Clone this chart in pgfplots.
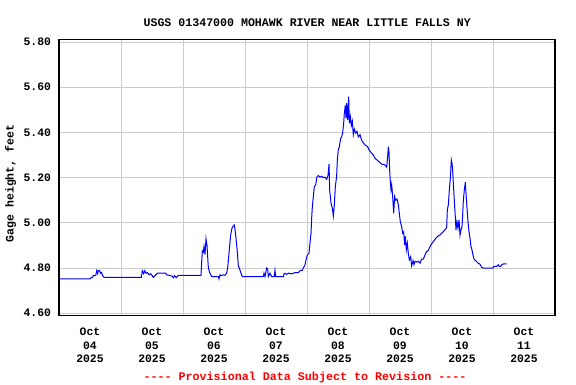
\documentclass[border=0pt]{standalone}
\usepackage{pgfplots}
\pgfplotsset{compat=1.18}
\usepackage{fontspec}
\newfontfamily\usgs{Liberation Mono}
\definecolor{gridgray}{RGB}{204,204,204}
\definecolor{usgsblue}{RGB}{0,0,255}
\definecolor{usgsred}{RGB}{255,0,0}
\begin{document}
\begin{tikzpicture}
\path[use as bounding box] (0,0) rectangle (576pt,384pt);
\begin{axis}[
  at={(59pt,68.3pt)}, anchor=south west,
  scale only axis, width=496pt, height=276.4pt,
  xmin=0, xmax=8, ymin=4.589, ymax=5.812,
  xtick={0.5,1.5,2.5,3.5,4.5,5.5,6.5,7.5},
  xticklabels={Oct\\04\\2025,Oct\\05\\2025,Oct\\06\\2025,Oct\\07\\2025,Oct\\08\\2025,Oct\\09\\2025,Oct\\10\\2025,Oct\\11\\2025},
  minor xtick={1,2,3,4,5,6,7},
  xminorgrids=true,
  ytick={4.6,4.8,5.0,5.2,5.4,5.6,5.8},
  yticklabels={4.60,4.80,5.00,5.20,5.40,5.60,5.80},
  ymajorgrids=true,
  major tick length=0pt, minor tick length=0pt,
  grid style={gridgray, line width=1pt},
  minor grid style={gridgray, line width=1pt},
  axis line style={black, line width=1.3pt},
  xticklabel style={font=\usgs\bfseries\fontsize{11.4}{13.3}\selectfont, align=center, yshift=-9pt},
  yticklabel style={font=\usgs\bfseries\fontsize{11.4}{13.3}\selectfont, xshift=-4.5pt},
  axis on top=false,
]
\addplot[usgsblue, line width=1pt, line join=miter] table {
0.000 4.752
0.500 4.752
0.516 4.757
0.543 4.757
0.548 4.766
0.591 4.766
0.608 4.788
0.624 4.775
0.634 4.788
0.656 4.788
0.672 4.777
0.688 4.780
0.704 4.766
0.726 4.759
1.328 4.759
1.344 4.788
1.366 4.775
1.382 4.788
1.403 4.777
1.425 4.780
1.452 4.770
1.478 4.775
1.505 4.766
1.522 4.759
1.548 4.766
1.586 4.777
1.720 4.777
1.737 4.770
1.801 4.766
1.828 4.763
1.844 4.757
1.866 4.766
1.892 4.757
1.919 4.766
1.935 4.767
2.290 4.767
2.296 4.800
2.312 4.876
2.328 4.870
2.339 4.895
2.355 4.860
2.371 4.929
2.387 4.900
2.398 4.850
2.409 4.800
2.435 4.777
2.462 4.762
2.570 4.762
2.581 4.752
2.597 4.770
2.624 4.766
2.651 4.770
2.677 4.768
2.704 4.777
2.720 4.800
2.737 4.850
2.753 4.900
2.769 4.946
2.790 4.976
2.812 4.986
2.828 4.990
2.839 4.970
2.855 4.930
2.871 4.888
2.882 4.850
2.892 4.810
2.909 4.800
2.935 4.777
2.957 4.762
3.296 4.762
3.306 4.777
3.323 4.762
3.349 4.800
3.366 4.795
3.376 4.762
3.403 4.777
3.430 4.762
3.473 4.762
3.484 4.790
3.495 4.762
3.618 4.762
3.634 4.777
3.672 4.772
3.699 4.777
3.753 4.774
3.806 4.780
3.860 4.780
3.887 4.788
3.925 4.790
3.941 4.800
3.968 4.814
3.984 4.836
4.005 4.858
4.032 4.865
4.048 4.910
4.065 4.954
4.075 5.020
4.086 5.070
4.102 5.116
4.118 5.160
4.140 5.168
4.161 5.204
4.183 5.209
4.210 5.202
4.237 5.206
4.263 5.200
4.290 5.202
4.317 5.193
4.339 5.210
4.355 5.260
4.366 5.145
4.387 5.087
4.409 5.065
4.425 5.030
4.441 5.080
4.457 5.160
4.478 5.205
4.489 5.278
4.505 5.323
4.522 5.337
4.543 5.374
4.559 5.380
4.575 5.397
4.591 5.440
4.602 5.485
4.618 5.520
4.629 5.463
4.640 5.530
4.656 5.455
4.672 5.558
4.683 5.440
4.699 5.470
4.715 5.430
4.731 5.450
4.747 5.390
4.763 5.415
4.785 5.397
4.806 5.405
4.828 5.380
4.855 5.390
4.871 5.374
4.892 5.360
4.935 5.345
4.978 5.337
5.000 5.323
5.043 5.308
5.070 5.300
5.097 5.286
5.129 5.278
5.161 5.270
5.204 5.260
5.258 5.256
5.285 5.246
5.301 5.293
5.312 5.337
5.323 5.310
5.333 5.234
5.344 5.182
5.355 5.146
5.366 5.168
5.382 5.116
5.398 5.042
5.414 5.116
5.430 5.100
5.452 5.105
5.473 5.080
5.489 5.042
5.505 5.005
5.527 4.983
5.543 4.954
5.559 4.960
5.575 4.902
5.586 4.940
5.602 4.880
5.618 4.910
5.634 4.865
5.651 4.836
5.672 4.850
5.688 4.810
5.710 4.833
5.726 4.815
5.742 4.830
5.769 4.826
5.796 4.830
5.823 4.821
5.849 4.839
5.876 4.839
5.903 4.858
5.930 4.873
5.957 4.878
5.984 4.895
6.011 4.907
6.038 4.917
6.065 4.927
6.091 4.936
6.118 4.942
6.145 4.946
6.172 4.954
6.199 4.961
6.226 4.969
6.253 4.980
6.263 5.057
6.280 5.080
6.296 5.146
6.312 5.197
6.328 5.278
6.339 5.264
6.349 5.234
6.360 5.175
6.376 5.100
6.392 5.027
6.403 4.969
6.419 5.005
6.435 4.976
6.452 5.013
6.468 4.946
6.484 4.969
6.500 4.983
6.511 5.035
6.522 5.100
6.538 5.146
6.554 5.180
6.565 5.130
6.581 5.065
6.597 5.005
6.613 4.961
6.629 4.932
6.645 4.895
6.661 4.880
6.677 4.858
6.694 4.840
6.710 4.835
6.737 4.828
6.763 4.821
6.790 4.817
6.817 4.803
6.844 4.800
6.995 4.800
7.016 4.807
7.059 4.807
7.086 4.814
7.102 4.807
7.124 4.807
7.140 4.814
7.167 4.818
7.220 4.818
};
\end{axis}
\node[anchor=base, font=\usgs\bfseries\fontsize{11.6}{14}\selectfont] at (307.2pt,357.5pt) {USGS 01347000 MOHAWK RIVER NEAR LITTLE FALLS NY};
\node[rotate=90, font=\usgs\bfseries\fontsize{11.5}{13}\selectfont] at (10.7pt,200.5pt) {Gage height, feet};
\node[anchor=base, text=usgsred, font=\usgs\bfseries\fontsize{11.7}{13}\selectfont] at (305pt,4pt) {---- Provisional Data Subject to Revision ----};
\end{tikzpicture}
\end{document}
